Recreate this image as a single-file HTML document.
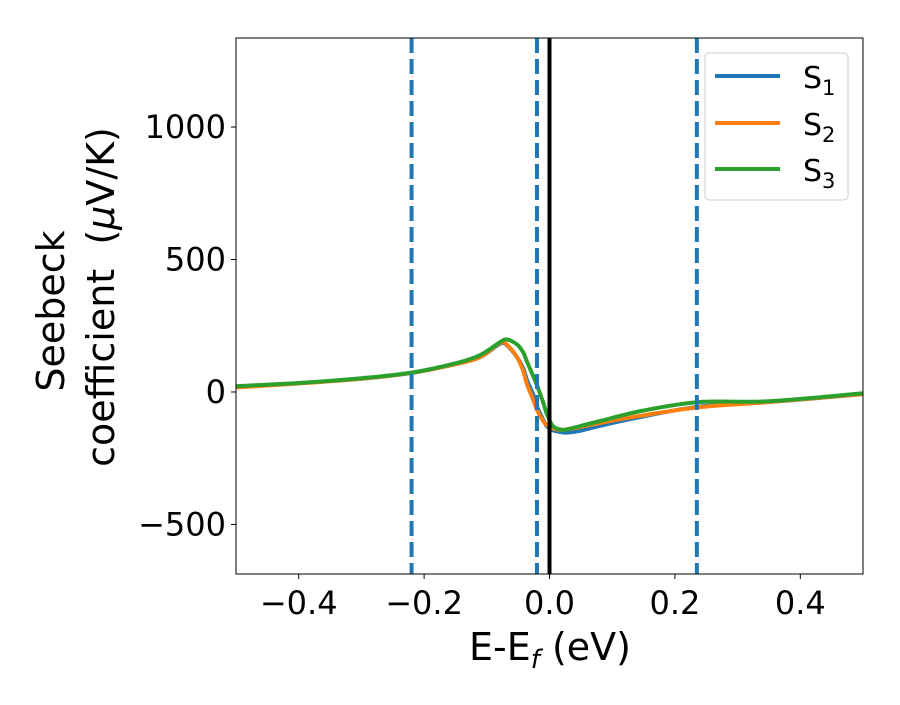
<!DOCTYPE html>
<html><head><meta charset="utf-8">
<style>
body{margin:0;background:#fff;}
svg text{font-family:"DejaVu Sans","Liberation Sans",sans-serif;fill:#000;}
</style></head>
<body>
<svg id="chart" width="900" height="700" viewBox="0 0 900 700" xmlns="http://www.w3.org/2000/svg">
<rect width="900" height="700" fill="#fff"/>
<g id="marks"></g>
<rect x="236" y="38" width="627" height="536" fill="none" stroke="#000" stroke-width="1"/>
<g id="ticks"></g>
<text x="550" y="660" font-size="38" text-anchor="middle">E-E<tspan font-size="26" dy="8" font-style="italic">f</tspan><tspan dy="-8"> (eV)</tspan></text>
<g>
<text x="0" y="0" font-size="38" text-anchor="middle" transform="translate(64,311) rotate(-90)">Seebeck</text>
<text x="0" y="0" font-size="38" text-anchor="middle" xml:space="preserve" transform="translate(114,297) rotate(-90)">coefficient  (<tspan font-style="italic">μ</tspan>V/K)</text>
</g>
<g>
<rect x="705" y="53" width="143" height="147" rx="4" fill="#fff" fill-opacity="0.8" stroke="#ccc"/>
<line x1="715" y1="76" x2="780" y2="76" stroke="#1f77b4" stroke-width="4"/>
<text x="803" y="88" font-size="30">S<tspan font-size="21" dy="7">1</tspan></text>
<line x1="715" y1="123" x2="780" y2="123" stroke="#ff7f0e" stroke-width="4"/>
<text x="803" y="135" font-size="30">S<tspan font-size="21" dy="7">2</tspan></text>
<line x1="715" y1="169" x2="780" y2="169" stroke="#2ca02c" stroke-width="4"/>
<text x="803" y="181" font-size="30">S<tspan font-size="21" dy="7">3</tspan></text>
</g>
</svg>
<script>
const xs =  [-0.5,-0.4,-0.3,-0.22,-0.15,-0.11,-0.079,-0.068,-0.052,-0.042,-0.036,-0.026,-0.02,-0.01,-0.004,0.006,0.02,0.03,0.05,0.08,0.15,0.24,0.35,0.5];
const s1 =  [19,33,50,72,105,132,182,176,132,90,45,-10,-55,-105,-130,-145,-152,-153,-146,-128,-92,-55,-38,-8];
const s2 =  [17,32,50,72,105,132,185,178,132,80,30,-30,-68,-110,-125,-138,-143,-140,-132,-117,-88,-57,-38,-8];
const s3 =  [22,34,52,73,108,140,188,198,180,150,115,60,25,-40,-85,-130,-143,-140,-128,-110,-70,-38,-35,-5];
const vlines = [-0.22,-0.02,0.235];
const xTicks = [-0.4,-0.2,0.0,0.2,0.4];
const xTickLabels = ["\u22120.4","\u22120.2","0.0","0.2","0.4"];
const yTicks = [-500,0,500,1000];
const yTickLabels = ["\u2212500","0","500","1000"];

const X0=236,X1=863,Y0=38,Y1=574,XMIN=-0.5,XMAX=0.5,YMIN=-687,YMAX=1336;
function sx(v){return X0+(v-XMIN)/(XMAX-XMIN)*(X1-X0);}
function sy(v){return Y1-(v-YMIN)/(YMAX-YMIN)*(Y1-Y0);}
const NS="http://www.w3.org/2000/svg";
const marks=document.getElementById('marks');
const ticks=document.getElementById('ticks');

function path(ys){
  const p=xs.map((x,i)=>[sx(x),sy(ys[i])]);
  let d="M"+p[0][0]+","+p[0][1];
  for(let i=0;i<p.length-1;i++){
    const p0=p[Math.max(i-1,0)],p1=p[i],p2=p[i+1],p3=p[Math.min(i+2,p.length-1)];
    const c1=[p1[0]+(p2[0]-p0[0])/6,p1[1]+(p2[1]-p0[1])/6];
    const c2=[p2[0]-(p3[0]-p1[0])/6,p2[1]-(p3[1]-p1[1])/6];
    d+=" C"+c1+" "+c2+" "+p2;
  }
  return d;
}
const series=[[s1,'#1f77b4','series-s1'],[s2,'#ff7f0e','series-s2'],[s3,'#2ca02c','series-s3']];
series.forEach(([ys,c,n])=>{
  const el=document.createElementNS(NS,'path');
  el.setAttribute('d',path(ys));
  el.setAttribute('fill','none');el.setAttribute('stroke',c);el.setAttribute('stroke-width','4');
  el.setAttribute('stroke-linejoin','round');
  
  
  marks.appendChild(el);
});
vlines.forEach((v,i)=>{
  const l=document.createElementNS(NS,'line');
  l.setAttribute('x1',sx(v));l.setAttribute('x2',sx(v));l.setAttribute('y1',Y0);l.setAttribute('y2',Y1);
  l.setAttribute('stroke','#1f77b4');l.setAttribute('stroke-width','4');l.setAttribute('stroke-dasharray','15,6');
  
  
  marks.appendChild(l);
});
const z=document.createElementNS(NS,'line');
z.setAttribute('x1',sx(0));z.setAttribute('x2',sx(0));z.setAttribute('y1',Y0);z.setAttribute('y2',Y1);
z.setAttribute('stroke','#000');z.setAttribute('stroke-width','4');


marks.appendChild(z);

xTicks.forEach((v,i)=>{
  const l=document.createElementNS(NS,'line');
  l.setAttribute('x1',sx(v));l.setAttribute('x2',sx(v));l.setAttribute('y1',Y1);l.setAttribute('y2',Y1+5);l.setAttribute('stroke','#000');
  
  
  ticks.appendChild(l);
  const t=document.createElementNS(NS,'text');
  t.setAttribute('x',sx(v));t.setAttribute('y',Y1+40);t.setAttribute('font-size','32');t.setAttribute('text-anchor','middle');
  t.textContent=xTickLabels[i];
  
  
  ticks.appendChild(t);
});
yTicks.forEach((v,i)=>{
  const l=document.createElementNS(NS,'line');
  l.setAttribute('x1',X0-5);l.setAttribute('x2',X0);l.setAttribute('y1',sy(v));l.setAttribute('y2',sy(v));l.setAttribute('stroke','#000');
  
  
  ticks.appendChild(l);
  const t=document.createElementNS(NS,'text');
  t.setAttribute('x',X0-10);t.setAttribute('y',sy(v)+11);t.setAttribute('font-size','32');t.setAttribute('text-anchor','end');
  t.textContent=yTickLabels[i];
  
  
  ticks.appendChild(t);
});
</script>
</body></html>
